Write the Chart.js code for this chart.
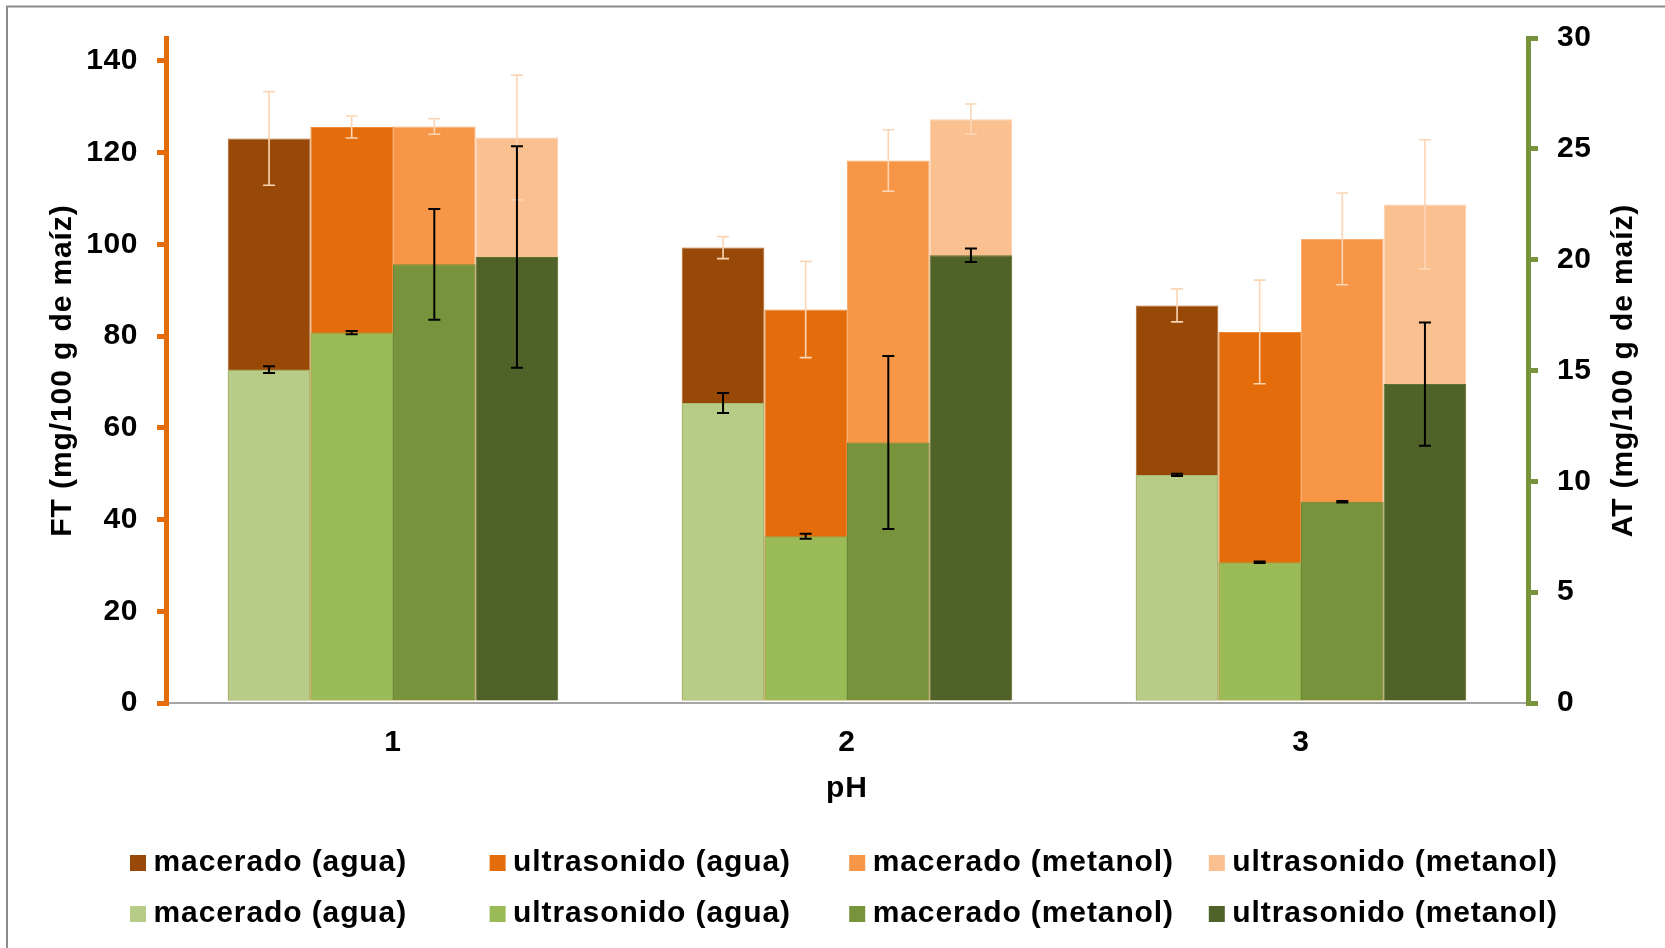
<!DOCTYPE html>
<html>
<head>
<meta charset="utf-8">
<script src="https://cdn.jsdelivr.net/npm/chart.js@4.4.1/dist/chart.umd.min.js"></script>
<style>
html, body { margin: 0; padding: 0; background: #ffffff; }
canvas { display: block; }
</style>
</head>
<body>
<canvas id="c" width="1665" height="948"></canvas>
<script>
// ---------- DATA ----------
const categories = ['1', '2', '3'];
const seriesNames = ['macerado (agua)', 'ultrasonido (agua)', 'macerado (metanol)', 'ultrasonido (metanol)'];

// FT (mg/100 g de maíz) - left axis
const ftMaceradoAgua        = [123.1, 99.3, 86.7];
const ftUltrasonidoAgua     = [125.6, 85.8, 80.9];
const ftMaceradoMetanol     = [125.7, 118.3, 101.2];
const ftUltrasonidoMetanol  = [123.3, 127.3, 108.7];
const ftErrMaceradoAgua       = [10.2, 2.4, 3.6];
const ftErrUltrasonidoAgua    = [2.4, 10.5, 11.3];
const ftErrMaceradoMetanol    = [1.7, 6.7, 10.0];
const ftErrUltrasonidoMetanol = [13.6, 3.3, 14.1];

// AT (mg/100 g de maíz) - right axis
const atMaceradoAgua        = [15.04, 13.53, 10.29];
const atUltrasonidoAgua     = [16.71, 7.52, 6.35];
const atMaceradoMetanol     = [19.79, 11.75, 9.08];
const atUltrasonidoMetanol  = [20.12, 20.2, 14.39];
const atErrMaceradoAgua       = [0.15, 0.45, 0.05];
const atErrUltrasonidoAgua    = [0.07, 0.11, 0.03];
const atErrMaceradoMetanol    = [2.5, 3.9, 0.03];
const atErrUltrasonidoMetanol = [5.0, 0.3, 2.78];

const ftTicks = [0, 20, 40, 60, 80, 100, 120, 140];
const atTicks = [0, 5, 10, 15, 20, 25, 30];
const ftMax = 145;
const atMax = 30;

const ftTitle = 'FT (mg/100 g de maíz)';
const atTitle = 'AT (mg/100 g de maíz)';
const xTitle = 'pH';

// ---------- STYLE ----------
const FONT = '"Liberation Sans", Arial, Helvetica, sans-serif';
const orangeColors = ['#984807', '#E46C0A', '#F79646', '#FAC090'];
const orangeBorders = ['#B0652B', '#EC8A3A', '#FAAE72', '#FCD0AA'];
const greenColors = ['#B7CD87', '#9BBB59', '#77933C', '#4F6228'];
const greenBorders = ['#A4BC70', '#8EAE4E', '#6E8A38', '#5C7233'];

const ftData = [ftMaceradoAgua, ftUltrasonidoAgua, ftMaceradoMetanol, ftUltrasonidoMetanol];
const ftErr = [ftErrMaceradoAgua, ftErrUltrasonidoAgua, ftErrMaceradoMetanol, ftErrUltrasonidoMetanol];
const atData = [atMaceradoAgua, atUltrasonidoAgua, atMaceradoMetanol, atUltrasonidoMetanol];
const atErr = [atErrMaceradoAgua, atErrUltrasonidoAgua, atErrMaceradoMetanol, atErrUltrasonidoMetanol];

const datasets = [];
ftData.forEach((d, k) => datasets.push({
  label: seriesNames[k], data: d, errors: ftErr[k],
  backgroundColor: orangeColors[k], borderColor: orangeBorders[k], borderWidth: 1,
  yAxisID: 'y', stack: 's' + k, order: 2,
  errorColor: '#FCD5B5', errorWidth: 1.6
}));
atData.forEach((d, k) => datasets.push({
  label: seriesNames[k], data: d, errors: atErr[k],
  backgroundColor: greenColors[k], borderColor: greenBorders[k], borderWidth: 1,
  yAxisID: 'y1', stack: 's' + k, order: 1,
  errorColor: '#000000', errorWidth: 2
}));

// ---------- PLUGINS ----------
const frame = {
  id: 'frame',
  beforeDraw(chart) {
    const ctx = chart.ctx;
    ctx.save();
    ctx.strokeStyle = '#8C8C8C';
    ctx.lineWidth = 2;
    ctx.beginPath();
    ctx.moveTo(7, 948); ctx.lineTo(7, 6.5); ctx.lineTo(1665, 6.5);
    ctx.stroke();
    ctx.restore();
    ctx.letterSpacing = '0.6px';
  }
};

const errorBars = {
  id: 'errorBars',
  afterDatasetsDraw(chart) {
    const ctx = chart.ctx;
    chart.data.datasets.forEach((ds, i) => {
      const meta = chart.getDatasetMeta(i);
      const scale = chart.scales[ds.yAxisID];
      ctx.save();
      ctx.strokeStyle = ds.errorColor;
      ctx.lineWidth = ds.errorWidth;
      meta.data.forEach((bar, j) => {
        const v = ds.data[j], e = ds.errors[j];
        const yT = scale.getPixelForValue(v + e);
        const yB = scale.getPixelForValue(v - e);
        const x = bar.x;
        ctx.beginPath();
        ctx.moveTo(x, yT); ctx.lineTo(x, yB);
        ctx.moveTo(x - 6, yT); ctx.lineTo(x + 6, yT);
        ctx.moveTo(x - 6, yB); ctx.lineTo(x + 6, yB);
        ctx.stroke();
      });
      ctx.restore();
    });
  }
};

const titlesAndLegend = {
  id: 'titlesAndLegend',
  afterDraw(chart) {
    const ctx = chart.ctx;
    const ca = chart.chartArea;
    const cy = (ca.top + ca.bottom) / 2;
    ctx.save();
    ctx.fillStyle = '#000';
    ctx.font = 'bold 30px ' + FONT;
    ctx.letterSpacing = '0.9px';
    ctx.textAlign = 'center';
    ctx.textBaseline = 'alphabetic';
    // left title
    ctx.save();
    ctx.translate(71, cy);
    ctx.rotate(-Math.PI / 2);
    ctx.fillText(ftTitle, 0, 0);
    ctx.restore();
    // right title
    ctx.save();
    ctx.translate(1632, cy);
    ctx.rotate(-Math.PI / 2);
    ctx.fillText(atTitle, 0, 0);
    ctx.restore();
    // x title
    ctx.fillText(xTitle, (ca.left + ca.right) / 2, 797);
    // legend
    ctx.textAlign = 'left';
    ctx.letterSpacing = '0.9px';
    chart.data.datasets.forEach((ds, i) => {
      const row = i < 4 ? 0 : 1;
      const col = i % 4;
      const base = row === 0 ? 871 : 922;
      const bx = 130 + col * 359.6;
      ctx.fillStyle = ds.backgroundColor;
      ctx.fillRect(bx, base - 16, 16, 16);
      ctx.fillStyle = '#000';
      ctx.fillText(ds.label, bx + 23.5, base);
    });
    ctx.restore();
  }
};

// ---------- CHART ----------
new Chart(document.getElementById('c'), {
  type: 'bar',
  data: { labels: categories, datasets: datasets },
  plugins: [frame, errorBars, titlesAndLegend],
  options: {
    responsive: false,
    animation: false,
    devicePixelRatio: 1,
    layout: { padding: { top: 38, left: 0, right: 0, bottom: 0 } },
    datasets: { bar: { barPercentage: 1, categoryPercentage: 0.728 } },
    plugins: { legend: { display: false }, tooltip: { enabled: false } },
    scales: {
      x: {
        type: 'category',
        offset: true,
        grid: { display: false, drawTicks: false },
        border: { display: true, color: '#A6A6A6', width: 2 },
        ticks: { color: '#000', font: { family: FONT, size: 30, weight: 'bold' }, padding: 22 },
        afterFit(s) { s.height = 245; }
      },
      y: {
        position: 'left',
        min: 0, max: ftMax,
        stacked: false,
        grid: { drawOnChartArea: false, drawTicks: true, tickLength: 9, tickColor: '#E46C0A', tickWidth: 5, lineWidth: 5, color: '#E46C0A' },
        border: { display: true, color: '#E46C0A', width: 5 },
        ticks: { color: '#000', font: { family: FONT, size: 30, weight: 'bold' }, padding: 19 },
        afterBuildTicks(s) { s.ticks = ftTicks.map(v => ({ value: v })); },
        afterFit(s) { s.width = 166; }
      },
      y1: {
        position: 'right',
        min: 0, max: atMax,
        stacked: false,
        grid: { drawOnChartArea: false, drawTicks: true, tickLength: 10, tickColor: '#77933C', tickWidth: 5, lineWidth: 5, color: '#77933C' },
        border: { display: true, color: '#77933C', width: 5 },
        ticks: { color: '#000', font: { family: FONT, size: 30, weight: 'bold' }, padding: 19 },
        afterBuildTicks(s) { s.ticks = atTicks.map(v => ({ value: v })); },
        afterFit(s) { s.width = 137; }
      }
    }
  }
});
</script>
</body>
</html>
